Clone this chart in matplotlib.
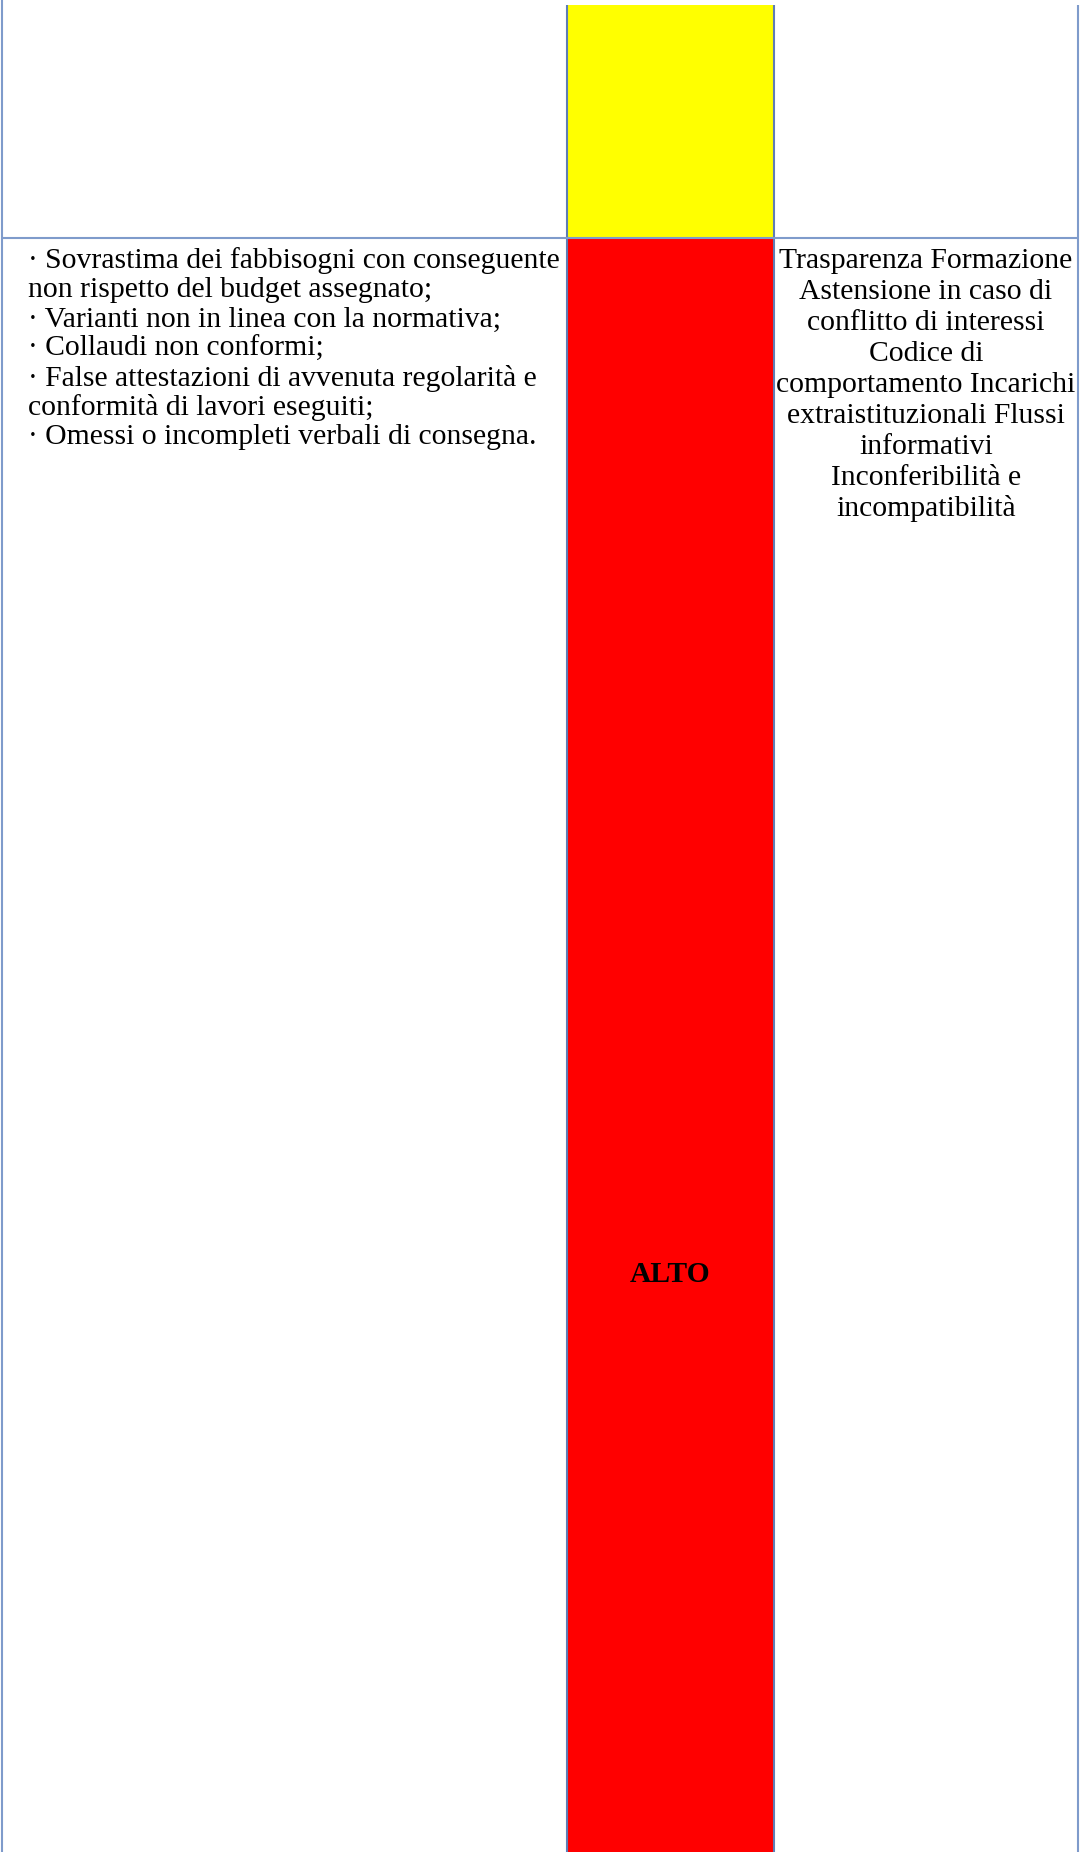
import matplotlib

matplotlib.use("Agg")

import matplotlib.pyplot as plt

# table content (one page fragment of a risk register)
risk_levels = ["", "ALTO"]
level_colors = ["#FFFF00", "#FF0000"]

risk_events = [
    "· Sovrastima dei fabbisogni con conseguente",
    "non rispetto del budget assegnato;",
    "· Varianti non in linea con la normativa;",
    "· Collaudi non conformi;",
    "· False attestazioni di avvenuta regolarità e",
    "conformità di lavori eseguiti;",
    "· Omessi o incompleti verbali di consegna.",
]

measures = [
    "Trasparenza Formazione",
    "Astensione in caso di",
    "conflitto di interessi",
    "Codice di",
    "comportamento Incarichi",
    "extraistituzionali Flussi",
    "informativi",
    "Inconferibilità e",
    "incompatibilità",
]

W, H = 1080, 1852
col_edges = [1.5, 567, 774, 1078]
row_edges = [5, 238, H]
border = "#7F9BCB"
font = ["Liberation Serif", "DejaVu Serif"]
fsize = 21.3

fig = plt.figure(figsize=(W / 100, H / 100), dpi=100)
ax = fig.add_axes([0, 0, 1, 1])
ax.set_xlim(0, W)
ax.set_ylim(H, 0)
ax.axis("off")

# coloured risk level cells
mid_x = (col_edges[1] + col_edges[2]) / 2
for i, color in enumerate(level_colors):
    ax.bar(
        mid_x,
        row_edges[i + 1] - row_edges[i],
        width=col_edges[2] - col_edges[1],
        bottom=row_edges[i],
        color=color,
        linewidth=0,
    )

# grid lines
ax.vlines(col_edges[0], 0, H, color=border, linewidth=1.5)
ax.vlines(col_edges[1:3], row_edges[0], H, color="#5F7DB5", linewidth=1.5)
ax.vlines(col_edges[3], row_edges[0], H, color=border, linewidth=1.5)
ax.hlines(row_edges[1], col_edges[0], col_edges[-1], color=border, linewidth=1.5)

# text in the second row
first_baseline = 268
for i, line in enumerate(risk_events):
    ax.text(28, first_baseline + i * 29.4, line, family=font, fontsize=fsize,
            ha="left", va="baseline")

mid_right = (col_edges[2] + col_edges[3]) / 2
for i, line in enumerate(measures):
    ax.text(mid_right, first_baseline + i * 31.0, line, family=font,
            fontsize=fsize, ha="center", va="baseline")

ax.text(mid_x, 1274, risk_levels[1], family=font, fontsize=fsize,
        fontweight="bold", ha="center", va="center")

fig.savefig("out.png", dpi=100)
plt.close(fig)
